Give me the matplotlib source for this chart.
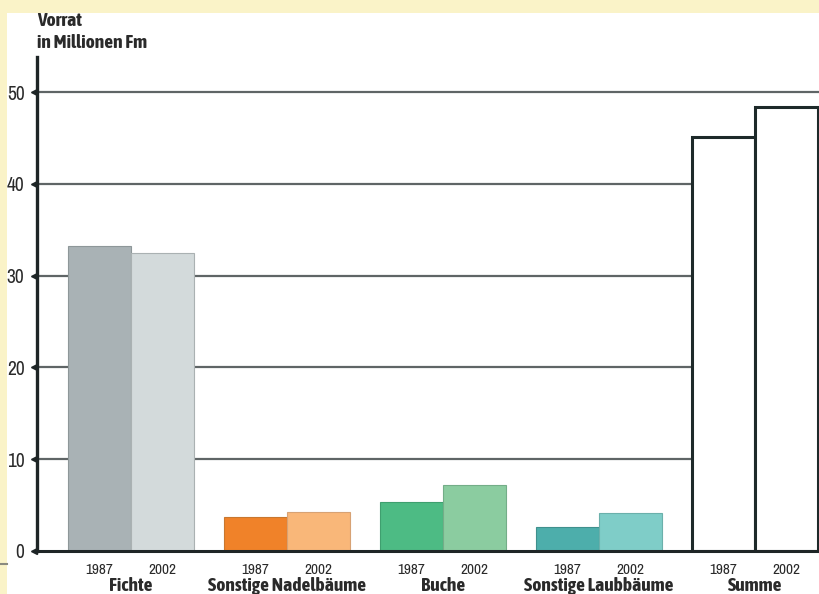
import matplotlib
matplotlib.use("Agg")
import matplotlib.pyplot as plt
import matplotlib.transforms as mtransforms
from matplotlib import font_manager
from matplotlib.patches import Rectangle
from matplotlib.lines import Line2D
import numpy as np

# Holzvorrat je Baumart, in Millionen Festmeter
categories = ["Fichte", "Sonstige Nadelbäume", "Buche", "Sonstige Laubbäume", "Summe"]
years = ["1987", "2002"]
vorrat_1987 = [33.2, 3.7, 5.3, 2.6, 45.1]
vorrat_2002 = [32.5, 4.25, 7.2, 4.1, 48.4]
y_ticks = [0, 10, 20, 30, 40, 50]

colors_1987 = ["#a9b2b5", "#f08229", "#4dbb84", "#4daeab", "#ffffff"]
colors_2002 = ["#d3dadb", "#f9b779", "#8bcca0", "#7fcdc8", "#ffffff"]
edge_1987 = ["#8e9799", "#c8772f", "#3f9f6f", "#3f908d", "#1e2a2a"]
edge_2002 = ["#aab1b2", "#d7a274", "#74ad88", "#6bb0ab", "#1e2a2a"]

# narrow upright sans faces: one with a bold cut for headings, a regular one for numbers
entries = font_manager.fontManager.ttflist
def is_narrow(f):
    return ("Narrow" in f.name or "Condensed" in f.name or f.stretch in
            ("condensed", "semi-condensed", "extra-condensed"))
def weight_num(w):
    if isinstance(w, int):
        return w
    return {"light": 300, "normal": 400, "regular": 400, "medium": 500,
            "semibold": 600, "bold": 700, "heavy": 800, "black": 900}.get(str(w), 400)

def pick(lo, hi):
    names = sorted({f.name for f in entries if is_narrow(f) and f.style == "normal"
                    and lo <= weight_num(f.weight) < hi})
    liberation = [n for n in names if n.startswith("Liberation")]
    return (liberation or names)[:1]

BOLD_FONT = pick(600, 1000) + ["Liberation Sans", "DejaVu Sans"]
REG_FONT = pick(350, 600) + ["Liberation Sans", "DejaVu Sans"]
plt.rcParams["font.family"] = REG_FONT

W, H = 819, 594
fig = plt.figure(figsize=(W / 100, H / 100), dpi=100)
fig.patch.set_facecolor("#faf3c8")

# white sheet behind the chart
fig.add_artist(Rectangle((7 / W, 0), 1 - 7 / W, 1 - 13 / H, transform=fig.transFigure,
                         facecolor="white", edgecolor="none", zorder=0))
fig.add_artist(Line2D([0, 7 / W], [1 - 564 / H] * 2, transform=fig.transFigure,
                      color="#8a8a80", lw=1.5))

ax_left, ax_right = 37, 819
y0_px, y50_px, top_px = 551, 92, 57
px_per_unit = (y0_px - y50_px) / 50.0
ax = fig.add_axes([ax_left / W, 1 - y0_px / H, (ax_right - ax_left) / W, (y0_px - top_px) / H])
ax.set_facecolor("none")
ax.set_ylim(0, (y0_px - top_px) / px_per_unit)

pitch = 156.0
bar_w = 63.0 / pitch
center0 = 131.0
ax.set_xlim((ax_left - center0) / pitch, (ax_right - center0) / pitch)

x = np.arange(len(categories))
for i in range(len(categories)):
    lw = 2.2 if i == len(categories) - 1 else 0.8
    ax.bar(x[i] - bar_w / 2, vorrat_1987[i], width=bar_w, color=colors_1987[i],
           edgecolor=edge_1987[i], linewidth=lw, zorder=3)
    ax.bar(x[i] + bar_w / 2, vorrat_2002[i], width=bar_w, color=colors_2002[i],
           edgecolor=edge_2002[i], linewidth=lw, zorder=3)

# horizontal grid lines
for v in y_ticks[1:]:
    ax.axhline(v, color="#5f6566", lw=1.6, zorder=1)

for s in ["top", "right"]:
    ax.spines[s].set_visible(False)
ax.spines["left"].set_linewidth(2.4)
ax.spines["left"].set_color("#1e2526")
ax.spines["left"].set_zorder(5)
ax.spines["bottom"].set_linewidth(2.2)
ax.spines["bottom"].set_color("#1e2526")
ax.spines["bottom"].set_zorder(5)

ax.set_yticks(y_ticks)
ax.set_yticklabels([str(v) for v in y_ticks], fontsize=14, color="#2a2a2a")
ax.tick_params(axis="y", length=0, pad=9)
ax.set_xticks([])

# arrow-shaped tick marks on the value axis
trans = mtransforms.blended_transform_factory(ax.transAxes, ax.transData)
ax.plot([-3.5 / (ax_right - ax_left)] * len(y_ticks), y_ticks, linestyle="none",
        marker="<", markersize=4.5, color="#1e2526", transform=trans, clip_on=False, zorder=6)

# year and category labels below the bars
for i, cat in enumerate(categories):
    for off, yr in zip((-bar_w / 2, bar_w / 2), years):
        ax.text(x[i] + off, -2.05, yr, ha="center", va="center", fontsize=11,
                color="#2a2a2a")
    ax.text(x[i], -3.8, cat, ha="center", va="center", fontsize=14,
            fontweight="bold", color="#2a2a2a", family=BOLD_FONT)

fig.text(37 / W, 1 - 26 / H, "Vorrat", ha="left", va="baseline", fontsize=14,
         fontweight="bold", color="#2a2a2a", family=BOLD_FONT)
fig.text(37 / W, 1 - 48 / H, "in Millionen Fm", ha="left", va="baseline", fontsize=14,
         fontweight="bold", color="#2a2a2a", family=BOLD_FONT)

fig.savefig("out.png", dpi=100, facecolor=fig.get_facecolor())
